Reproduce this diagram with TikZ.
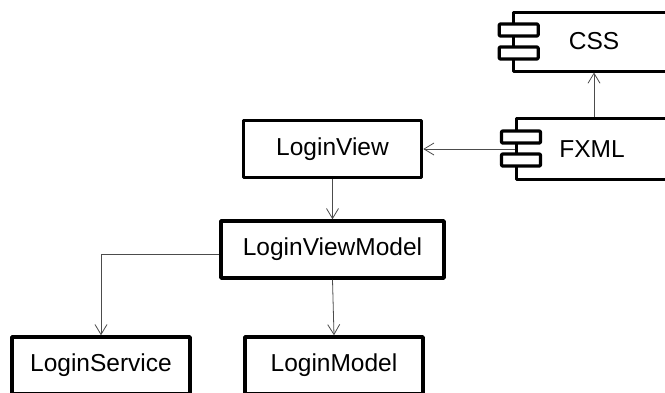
\documentclass[tikz,border=0pt]{standalone}
\usepackage{fontspec}
\setmainfont{Liberation Sans}
\usetikzlibrary{arrows.meta}
\tikzset{
  classbox/.style={draw, fill=white, line width=3.5pt, line join=round, minimum height=57pt, inner sep=0pt, font=\fontsize{24.5}{28}\selectfont},
  compbox/.style={classbox, line width=3pt, minimum width=162pt},
  comptab/.style={draw, fill=white, line width=3.2pt, line join=round, rounded corners=1pt, minimum width=39pt, minimum height=12pt, inner sep=0pt},
  dep/.style={draw=black!70, line width=.8pt, -{Straight Barb[length=10pt,width=12pt,black!70]}}
}
\begin{document}
\begin{tikzpicture}[x=1pt,y=-1pt]
  \useasboundingbox (0,0) rectangle (665,392);
  \clip (0,0) rectangle (665,392);
  \node[classbox, minimum width=178pt] (loginview) at (332.5,149) {LoginView};
  \node[classbox, minimum width=223pt] (viewmodel) at (332.5,249.5) {LoginViewModel};
  \node[classbox, minimum width=178pt] (loginservice) at (101,365.5) {LoginService};
  \node[classbox, minimum width=178pt] (loginmodel) at (334,365.5) {LoginModel};
  \node[compbox, minimum height=59pt] (css) at (594,41.5) {CSS};
  \node[compbox, minimum height=61pt] (fxml) at (597,149) {\hspace*{-10pt}FXML};
  \foreach \y/\name in {30/cssa, 53/cssb}
    \node[comptab] (\name) at (518.7,\y) {};
  \foreach \y/\name in {137/fxmla, 160/fxmlb}
    \node[comptab] (\name) at (521,\y) {};
  \draw[dep] (fxml.west) -- (loginview.east);
  \draw[dep] (css.south |- fxml.north) -- (css.south);
  \draw[dep] (loginview.south) -- (viewmodel.north);
  \draw[dep] ([yshift=-4.5pt]viewmodel.west) -| (loginservice.north);
  \draw[dep] (viewmodel.south) -- (loginmodel.north);
\end{tikzpicture}
\end{document}
